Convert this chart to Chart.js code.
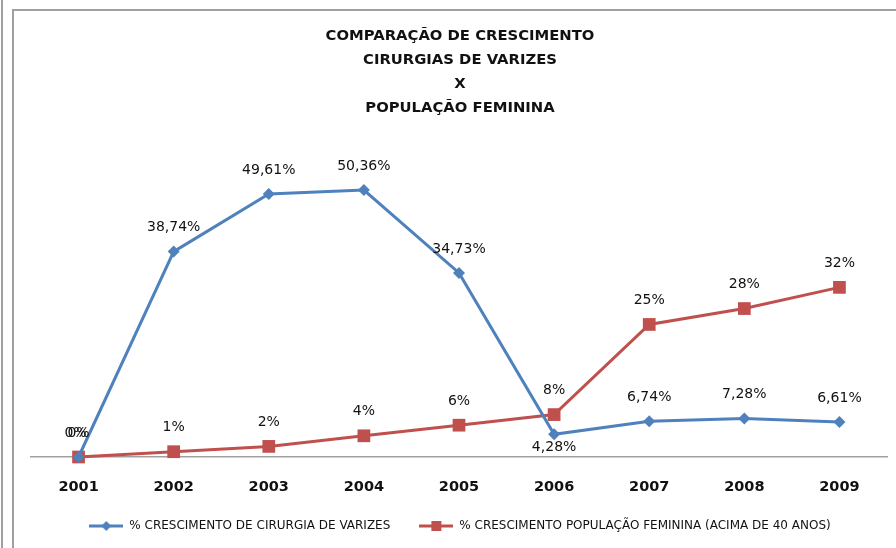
<!DOCTYPE html>
<html>
<head>
<meta charset="utf-8">
<script src="https://cdn.jsdelivr.net/npm/chart.js@4.4.1/dist/chart.umd.min.js"></script>
<style>
  html, body { margin: 0; padding: 0; background: #fff; }
  #wrap { position: relative; width: 896px; height: 548px; overflow: hidden; }
  #edge { position: absolute; left: 1px; top: 0; width: 2px; height: 548px; background: #a0a0a0; }
  #frame { position: absolute; left: 12px; top: 9px; width: 1000px; height: 1000px; border: 2px solid #a0a0a0; }
  #chart { position: absolute; left: 0; top: 0; }
</style>
</head>
<body>
<div id="wrap">
  <div id="edge"></div>
  <div id="frame"></div>
  <canvas id="chart" width="896" height="548"></canvas>
</div>
<script>
const years = ['2001', '2002', '2003', '2004', '2005', '2006', '2007', '2008', '2009'];
const cirurgias = [0, 38.74, 49.61, 50.36, 34.73, 4.28, 6.74, 7.28, 6.61];
const populacao = [0, 1, 2, 4, 6, 8, 25, 28, 32];
const titleLines = ['COMPARAÇÃO DE CRESCIMENTO', 'CIRURGIAS DE VARIZES', 'X', 'POPULAÇÃO FEMININA'];
const seriesNames = ['% CRESCIMENTO DE CIRURGIA DE VARIZES', '% CRESCIMENTO POPULAÇÃO FEMININA (ACIMA DE 40 ANOS)'];

const BLUE = '#4F81BD';
const RED = '#C0504D';

function fmt(v) {
  if (Number.isInteger(v)) return v + '%';
  return v.toFixed(2).replace('.', ',') + '%';
}

// little line+marker pictures for the legend
function legendIcon(color, shape) {
  const c = document.createElement('canvas');
  c.width = 34; c.height = 14;
  const g = c.getContext('2d');
  g.strokeStyle = color;
  g.lineWidth = 3;
  g.beginPath(); g.moveTo(0, 7); g.lineTo(34, 7); g.stroke();
  g.fillStyle = color;
  if (shape === 'diamond') {
    g.beginPath(); g.moveTo(17, 2); g.lineTo(22, 7); g.lineTo(17, 12); g.lineTo(12, 7); g.closePath(); g.fill();
  } else {
    g.fillRect(12, 2, 10, 10);
  }
  return c;
}

const dataLabels = {
  id: 'dataLabels',
  afterDatasetsDraw(chart) {
    const ctx = chart.ctx;
    ctx.save();
    ctx.font = '14px "DejaVu Sans"';
    ctx.fillStyle = '#111';
    ctx.textAlign = 'center';
    ctx.textBaseline = 'middle';
    chart.data.datasets.forEach((ds, di) => {
      const meta = chart.getDatasetMeta(di);
      meta.data.forEach((pt, i) => {
        const below = di === 0 && i === 5;
        const dx = (di === 0 && i === 0) ? -3 : 0;
        const y = below ? pt.y + 13 : pt.y - 24;
        ctx.fillText(fmt(ds.data[i]), pt.x + dx, y);
      });
    });
    ctx.restore();
  }
};

new Chart(document.getElementById('chart'), {
  type: 'line',
  data: {
    labels: years,
    datasets: [
      {
        label: seriesNames[0],
        data: cirurgias,
        borderColor: BLUE,
        backgroundColor: BLUE,
        borderWidth: 3,
        pointStyle: 'rectRot',
        pointRadius: 6,
        pointBorderWidth: 0,
        tension: 0,
        clip: false
      },
      {
        label: seriesNames[1],
        data: populacao,
        borderColor: RED,
        backgroundColor: RED,
        borderWidth: 3,
        pointStyle: 'rect',
        pointRadius: 9,
        pointBorderWidth: 0,
        tension: 0,
        clip: false
      }
    ]
  },
  options: {
    responsive: false,
    animation: false,
    layout: { padding: { top: 24, left: 31, right: 7, bottom: 6 } },
    scales: {
      x: {
        offset: true,
        grid: { display: false, drawTicks: false },
        border: { display: true, color: '#a0a0a0', width: 1.5 },
        ticks: { color: '#111', padding: 22, font: { family: 'DejaVu Sans', size: 14.5, weight: 'bold' } },
        afterFit(scale) { scale.height = 34; }
      },
      y: {
        display: false,
        min: 0,
        max: 60
      }
    },
    plugins: {
      title: {
        display: true,
        text: titleLines,
        color: '#111',
        font: { family: 'DejaVu Sans', size: 14.8, weight: 'bold', lineHeight: 1.62 },
        padding: { top: 0, bottom: 19 }
      },
      legend: {
        position: 'bottom',
        labels: {
          usePointStyle: true,
          pointStyleWidth: 34,
          padding: 29,
          color: '#111',
          font: { family: 'DejaVu Sans', size: 12 },
          generateLabels(chart) {
            return chart.data.datasets.map((ds, i) => ({
              text: ds.label,
              pointStyle: legendIcon(ds.borderColor, i === 0 ? 'diamond' : 'square'),
              fillStyle: ds.borderColor,
              strokeStyle: ds.borderColor,
              lineWidth: 0,
              fontColor: '#111',
              datasetIndex: i,
              hidden: false
            }));
          }
        }
      },
      tooltip: { enabled: false }
    }
  },
  plugins: [dataLabels]
});
</script>
</body>
</html>
